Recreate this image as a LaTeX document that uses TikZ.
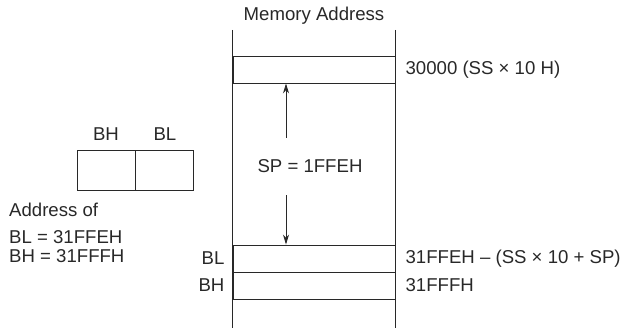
\documentclass[tikz,border=0pt]{standalone}
\usepackage{fontspec}
\setmainfont{Liberation Sans}
\usetikzlibrary{arrows.meta, positioning}
\definecolor{inkgray}{RGB}{40,40,40}

\begin{document}
\begin{tikzpicture}[x=1pt, y=-1pt, inner sep=0pt, every node/.style={font=\fontsize{18.6}{22}\selectfont, text=inkgray},
  cell/.style={draw=inkgray, line width=0.9pt, minimum width=162pt, minimum height=27pt},
  regbox/.style={draw=inkgray, line width=0.9pt, minimum width=58pt, minimum height=40pt},
  ptr/.style={-{Stealth[length=10pt, width=6pt]}, line width=0.9pt, inkgray}]
  \useasboundingbox (0,0) rectangle (626,328);
  % memory column
  \node[cell] (top) at (314,69.5) {};
  \node[cell] (blcell) at (314,258.5) {};
  \node[cell] (bhcell) at (314,285.5) {};
  \coordinate (coltop) at (314,30);
  \coordinate (colbot) at (314,328);
  \draw[line width=0.9pt, inkgray] (coltop -| top.west) -- (colbot -| top.west);
  \draw[line width=0.9pt, inkgray] (coltop -| top.east) -- (colbot -| top.east);
  \node (memaddr) at (314,16) {Memory Address};
  \node[anchor=west, right=10pt of top] (ssaddr) {30000 (SS × 10 H)};
  \node[anchor=west, right=10pt of blcell] (bladdr) {31FFEH -- (SS × 10 + SP)};
  \node[anchor=west, right=10pt of bhcell] (bhaddr) {31FFFH};
  \node[left=8pt of blcell] (bllab) {BL};
  \node[left=8pt of bhcell] (bhlab) {BH};
  % stack pointer span
  \node[minimum height=57pt] (sp) at (310,166.5) {SP = 1FFEH};
  \coordinate (ax) at (286,0);
  \draw[ptr] (sp.north -| ax) -- (top.south -| ax);
  \draw[ptr] (sp.south -| ax) -- (blcell.north -| ax);
  % BX register
  \node[regbox] (bhreg) at (106,170) {};
  \node[regbox, right=0pt of bhreg] (blreg) {};
  \node[above=9pt of bhreg] (bhname) {BH};
  \node[above=9pt of blreg] (blname) {BL};
  \node[anchor=base west] (addrof) at (9,217) {Address of};
  \node[anchor=base west] (addrbl) at (9,244) {BL = 31FFEH};
  \node[anchor=base west] (addrbh) at (9,263) {BH = 31FFFH};
\end{tikzpicture}
\end{document}
